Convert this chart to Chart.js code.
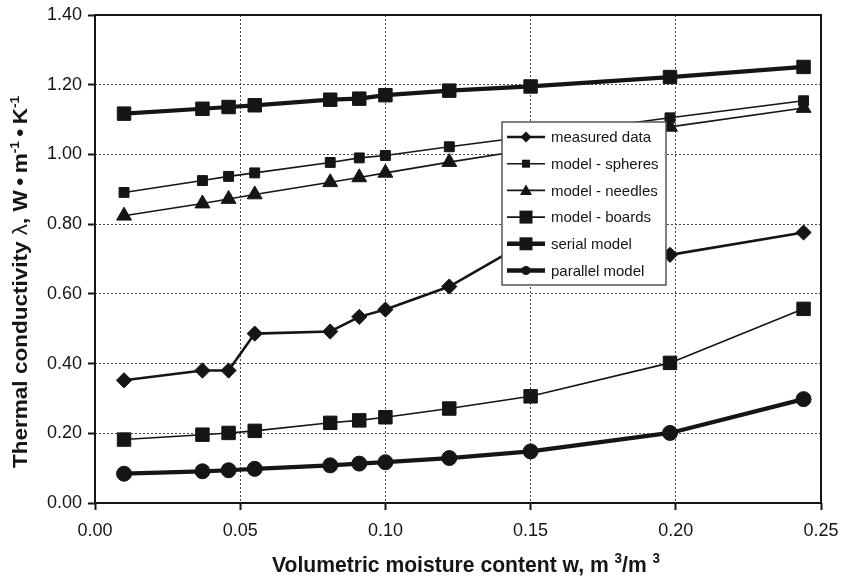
<!DOCTYPE html>
<html>
<head>
<meta charset="utf-8">
<script src="https://cdn.jsdelivr.net/npm/chart.js@4.4.1/dist/chart.umd.min.js"></script>
<style>
  html, body { margin: 0; padding: 0; background: #fff; }
</style>
</head>
<body>
<canvas id="chart" width="844" height="579"></canvas>
<script>
// volumetric moisture content, m3/m3
const moisture = [0.010, 0.037, 0.046, 0.055, 0.081, 0.091, 0.100, 0.122, 0.150, 0.198, 0.244];

// thermal conductivity, W/(m.K)
const measuredData = [0.352, 0.380, 0.380, 0.486, 0.492, 0.534, 0.555, 0.621, 0.755, 0.712, 0.776];
const modelSpheres = [0.891, 0.925, 0.937, 0.947, 0.977, 0.990, 0.997, 1.022, 1.052, 1.105, 1.154];
const modelNeedles = [0.824, 0.859, 0.872, 0.885, 0.920, 0.934, 0.947, 0.978, 1.015, 1.079, 1.133];
const modelBoards = [0.182, 0.196, 0.201, 0.207, 0.230, 0.237, 0.246, 0.271, 0.306, 0.402, 0.557];
const serialModel = [1.117, 1.131, 1.136, 1.141, 1.157, 1.160, 1.170, 1.183, 1.195, 1.222, 1.251];
const parallelModel = [0.084, 0.091, 0.094, 0.098, 0.108, 0.113, 0.117, 0.129, 0.148, 0.201, 0.298];

const seriesNames = [
  "measured data",
  "model - spheres",
  "model - needles",
  "model - boards",
  "serial model",
  "parallel model",
];

const INK = "#151515";

function points(values) {
  return moisture.map((x, i) => ({ x, y: values[i] }));
}

function lineSet(label, values, lineWidth, pointStyle, radius) {
  return {
    label,
    data: points(values),
    borderColor: INK,
    backgroundColor: INK,
    borderWidth: lineWidth,
    pointStyle,
    pointRadius: radius,
    pointBorderWidth: 1,
    pointBorderColor: INK,
    pointBackgroundColor: INK,
    tension: 0,
  };
}

const datasets = [
  lineSet(seriesNames[0], measuredData, 2.6, "rectRot", 7.6),
  lineSet(seriesNames[1], modelSpheres, 1.6, "rect", 7),
  lineSet(seriesNames[2], modelNeedles, 1.6, "triangle", 8.6),
  lineSet(seriesNames[3], modelBoards, 1.6, "rect", 9.5),
  lineSet(seriesNames[4], serialModel, 4.2, "rect", 9.5),
  lineSet(seriesNames[5], parallelModel, 4.2, "circle", 7.5),
];

// legend samples: [lineWidth, marker, size]
const legendSamples = [
  [2.6, "diamond", 5.5],
  [1.6, "square", 4],
  [1.6, "triangle", 6],
  [1.6, "square", 6.5],
  [4.5, "square", 6.5],
  [4.5, "circle", 4.5],
];

const TITLE_FAMILY = '"Liberation Sans", Arial, sans-serif';

// draws a run of text pieces, some of them superscript, centred on (0,0),
// squeezed sideways to the condensed width of the original lettering
function drawRich(ctx, parts, size, targetWidth) {
  const fontFor = (p) => {
    const s = p.sup ? Math.round(size * 0.62) : size;
    const w = p.light ? "normal" : "bold";
    return `${w} ${s}px ${TITLE_FAMILY}`;
  };
  let total = 0;
  for (const p of parts) {
    ctx.font = fontFor(p);
    p.w = ctx.measureText(p.t).width;
    total += p.w;
  }
  ctx.scale(targetWidth / total, 1);
  let x = -total / 2;
  ctx.textBaseline = "alphabetic";
  ctx.textAlign = "left";
  for (const p of parts) {
    ctx.font = fontFor(p);
    ctx.fillText(p.t, x, p.sup ? -size * 0.42 : 0);
    x += p.w;
  }
}

const xTitle = [
  { t: "Volumetric moisture content w, m " },
  { t: "3", sup: true },
  { t: "/m " },
  { t: "3", sup: true },
];
const yTitle = [
  { t: "Thermal conductivity " },
  { t: "\u03bb", light: true },
  { t: ", W\u2009\u2022\u2009m" },
  { t: "-1", sup: true },
  { t: "\u2009\u2022\u2009K" },
  { t: "-1", sup: true },
];

const framePlugin = {
  id: "frameAndTitles",
  beforeDatasetsDraw(chart) {
    const { ctx, chartArea: a } = chart;
    ctx.save();
    ctx.strokeStyle = INK;
    ctx.lineWidth = 2;
    ctx.strokeRect(a.left, a.top, a.right - a.left, a.bottom - a.top);
    ctx.restore();
  },
  afterDraw(chart) {
    const { ctx } = chart;
    ctx.save();
    ctx.fillStyle = INK;

    ctx.save();
    ctx.translate(466, 572);
    drawRich(ctx, xTitle, 22, 388);
    ctx.restore();

    ctx.save();
    ctx.translate(27, 282);
    ctx.rotate(-Math.PI / 2);
    drawRich(ctx, yTitle, 20, 372);
    ctx.restore();

    // legend box
    const bx = 502, by = 122, bw = 164, bh = 163;
    ctx.fillStyle = "#fff";
    ctx.fillRect(bx, by, bw, bh);
    ctx.strokeStyle = "#555";
    ctx.lineWidth = 1.5;
    ctx.strokeRect(bx, by, bw, bh);

    ctx.font = '15px "Liberation Sans", Arial, sans-serif';
    ctx.textBaseline = "middle";
    ctx.textAlign = "left";
    seriesNames.forEach((name, i) => {
      const y = by + 15 + i * 26.7;
      const [lw, marker, r] = legendSamples[i];
      ctx.strokeStyle = INK;
      ctx.fillStyle = INK;
      ctx.lineWidth = lw;
      ctx.beginPath();
      ctx.moveTo(bx + 5, y);
      ctx.lineTo(bx + 43, y);
      ctx.stroke();
      const cx = bx + 24;
      ctx.beginPath();
      if (marker === "square") {
        ctx.rect(cx - r, y - r, 2 * r, 2 * r);
      } else if (marker === "diamond") {
        ctx.moveTo(cx, y - r);
        ctx.lineTo(cx + r, y);
        ctx.lineTo(cx, y + r);
        ctx.lineTo(cx - r, y);
        ctx.closePath();
      } else if (marker === "triangle") {
        ctx.moveTo(cx, y - r);
        ctx.lineTo(cx + r, y + r * 0.75);
        ctx.lineTo(cx - r, y + r * 0.75);
        ctx.closePath();
      } else {
        ctx.arc(cx, y, r, 0, Math.PI * 2);
      }
      ctx.fill();
      ctx.fillText(name, bx + 49, y + 1);
    });
    ctx.restore();
  },
};

const tickFont = { family: '"Liberation Sans", Arial, sans-serif', size: 18 };
const gridStyle = {
  color: "#444",
  lineWidth: 1,
  tickLength: 7,
  tickColor: INK,
  tickWidth: 2,
  tickBorderDash: [],
};

new Chart(document.getElementById("chart"), {
  type: "line",
  data: { datasets },
  plugins: [framePlugin],
  options: {
    responsive: false,
    animation: false,
    devicePixelRatio: 1,
    layout: { padding: { top: 15, right: 23, left: 0, bottom: 0 } },
    plugins: {
      legend: { display: false },
      tooltip: { enabled: false },
    },
    scales: {
      x: {
        type: "linear",
        min: 0,
        max: 0.25,
        afterFit(scale) {
          scale.height = 76;
          scale.paddingLeft = 0;
          scale.paddingRight = 0;
        },
        ticks: {
          stepSize: 0.05,
          padding: 10,
          color: INK,
          font: tickFont,
          callback: (v) => v.toFixed(2),
        },
        grid: gridStyle,
        border: { display: false, dash: [2, 2] },
      },
      y: {
        min: 0,
        max: 1.4,
        afterFit(scale) {
          scale.width = 95;
          scale.paddingTop = 0;
          scale.paddingBottom = 0;
        },
        ticks: {
          stepSize: 0.2,
          padding: 6,
          color: INK,
          font: tickFont,
          callback: (v) => v.toFixed(2),
        },
        grid: gridStyle,
        border: { display: false, dash: [2, 2] },
      },
    },
  },
});
</script>
</body>
</html>
